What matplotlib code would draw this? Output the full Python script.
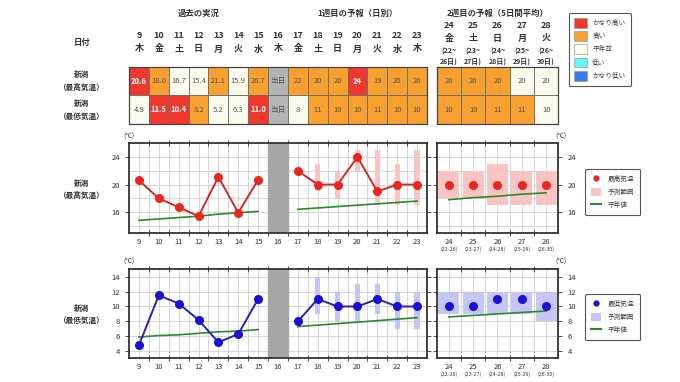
import matplotlib
matplotlib.use('Agg')
import matplotlib.pyplot as plt
from matplotlib import transforms
from matplotlib.patches import Patch
from matplotlib.lines import Line2D

plt.rcParams['font.family'] = ['Noto Sans CJK JP', 'DejaVu Sans']

W, H = 680, 382

# ---- data ----
past_days = [9, 10, 11, 12, 13, 14, 15]
today = 16
w1_days = [17, 18, 19, 20, 21, 22, 23]
w2_days = [24, 25, 26, 27, 28]
all_days = past_days + [today] + w1_days

weekday_left = ['木', '金', '土', '日', '月', '火', '水', '木', '金', '土', '日', '月', '火', '水', '木']
weekday_w2 = ['金', '土', '日', '月', '火']
span_start = [22, 23, 24, 25, 26]
span_end = [26, 27, 28, 29, 30]

past_max = [20.6, 18.0, 16.7, 15.4, 21.1, 15.9, 20.7]
past_min = [4.8, 11.5, 10.4, 8.2, 5.2, 6.3, 11.0]
w1_max = [22, 20, 20, 24, 19, 20, 20]
w1_min = [8, 11, 10, 10, 11, 10, 10]
w2_max = [20, 20, 20, 20, 20]
w2_min = [10, 10, 11, 11, 10]

# forecast ranges (first forecast day has none)
rng_days = [18, 19, 20, 21, 22, 23]
w1_max_lo = [19, 18, 22, 17, 17, 17]
w1_max_hi = [23, 22, 25, 25, 23, 25]
w1_min_lo = [9, 8, 8, 9, 7, 7]
w1_min_hi = [14, 12, 13, 13, 12, 12]
w2_max_lo = [18, 18, 17, 17, 17]
w2_max_hi = [22, 22, 23, 22, 22]
w2_min_lo = [9, 9, 9, 9, 8]
w2_min_hi = [12, 12, 12, 12, 12]

# normals
past_max_norm = [14.8, 15.0, 15.2, 15.4, 15.7, 15.9, 16.1]
w1_max_norm = [16.4, 16.6, 16.8, 17.0, 17.2, 17.4, 17.6]
w2_max_norm = [17.8, 18.1, 18.3, 18.6, 18.8]
past_min_norm = [5.9, 6.1, 6.2, 6.4, 6.6, 6.7, 6.9]
w1_min_norm = [7.3, 7.5, 7.7, 7.9, 8.1, 8.3, 8.5]
w2_min_norm = [8.6, 8.8, 9.0, 9.2, 9.4]

# table classes
max_cls_past = ['vh', 'h', 'n', 'n', 'h', 'n', 'h']
max_cls_w1 = ['h', 'h', 'h', 'vh', 'h', 'h', 'h']
max_cls_w2 = ['h', 'h', 'h', 'n', 'n']
min_cls_past = ['n', 'vh', 'vh', 'h', 'n', 'n', 'vh']
min_cls_w1 = ['n', 'h', 'h', 'h', 'h', 'h', 'h']
min_cls_w2 = ['h', 'h', 'h', 'h', 'n']

cls_names = ['vh', 'h', 'n', 'l', 'vl']
cls_labels = ['かなり高い', '高い', '平年並', '低い', 'かなり低い']
cls_colors = {'vh': '#f0382c', 'h': '#f8a030', 'n': '#fbfbee',
              'l': '#5ff8f8', 'vl': '#3a78ee', 'today': '#b4b4b4'}

red = '#e8281e'
red_line = '#cc2a28'
pink = '#f9c4c4'
blue = '#1a10d8'
blue_line = '#2a22a8'
lblue = '#c6c6f4'
green = '#2a8a2a'
txt = '#333333'


def box(x0, y0, w, h):
    return [x0 / W, 1 - (y0 + h) / H, w / W, h / H]


def fy(py):
    return 1 - py / H


fig = plt.figure(figsize=(W / 100, H / 100), dpi=100)

LX0, LX1 = 129.0, 427.0
RX0, RX1 = 436.7, 558.3

# ---- table ----
tab_l = fig.add_axes(box(LX0, 66.7, LX1 - LX0, 57.3))
tab_r = fig.add_axes(box(RX0, 66.7, RX1 - RX0, 57.3))
for ax in (tab_l, tab_r):
    ax.set_ylim(2, 0)
    ax.axis('off')
tab_l.set_xlim(8.5, 23.5)
tab_r.set_xlim(23.5, 28.5)


def fill_row(ax, days, texts, classes, row):
    cols = [cls_colors[c] for c in classes]
    ax.bar(days, 1, bottom=row, width=1, color=cols, edgecolor='#6a6a6a',
           linewidth=0.6, align='center')
    for d, t, c in zip(days, texts, classes):
        if c == 'vh':
            ax.text(d, row + 0.5, t, ha='center', va='center', fontsize=5.5,
                    color='white', fontweight='bold')
        else:
            ax.text(d, row + 0.5, t, ha='center', va='center', fontsize=5.5,
                    color='#555555')


fill_row(tab_l, all_days,
         [f'{v:.1f}' for v in past_max] + ['当日'] + [str(v) for v in w1_max],
         max_cls_past + ['today'] + max_cls_w1, 0)
fill_row(tab_l, all_days,
         [f'{v:.1f}' for v in past_min] + ['当日'] + [str(v) for v in w1_min],
         min_cls_past + ['today'] + min_cls_w1, 1)
fill_row(tab_r, w2_days, [str(v) for v in w2_max], max_cls_w2, 0)
fill_row(tab_r, w2_days, [str(v) for v in w2_min], min_cls_w2, 1)
for ax in (tab_l, tab_r):
    x0, x1 = ax.get_xlim()
    ax.plot([x0, x1, x1, x0, x0], [0, 0, 2, 2, 0], color='#444444', lw=0.9,
            clip_on=False)

# headers
tl = transforms.blended_transform_factory(tab_l.transData, fig.transFigure)
tr = transforms.blended_transform_factory(tab_r.transData, fig.transFigure)
tab_l.text(12, fy(13), '過去の実況', transform=tl, ha='center', va='center',
           fontsize=6, fontweight='bold', color=txt)
tab_l.text(20, fy(13), '1週目の予報（日別）', transform=tl, ha='center', va='center',
           fontsize=6, fontweight='bold', color=txt)
tab_r.text(26, fy(13), '2週目の予報（5日間平均）', transform=tr, ha='center', va='center',
           fontsize=6, fontweight='bold', color=txt)
for d, wd in zip(all_days, weekday_left):
    tab_l.text(d, fy(36), str(d), transform=tl, ha='center', va='center',
               fontsize=6.5, fontweight='bold', color=txt)
    tab_l.text(d, fy(49), wd, transform=tl, ha='center', va='center',
               fontsize=6.5, fontweight='bold', color=txt)
for d, wd, s, e in zip(w2_days, weekday_w2, span_start, span_end):
    tab_r.text(d, fy(25.5), str(d), transform=tr, ha='center', va='center',
               fontsize=6.5, fontweight='bold', color=txt)
    tab_r.text(d, fy(38.5), wd, transform=tr, ha='center', va='center',
               fontsize=6.5, fontweight='bold', color=txt)
    tab_r.text(d, fy(51.5), f'({s}~', transform=tr, ha='center', va='center',
               fontsize=5, fontweight='bold', color=txt)
    tab_r.text(d, fy(62), f'{e}日)', transform=tr, ha='center', va='center',
               fontsize=5, fontweight='bold', color=txt)

fig.text(82 / W, fy(43), '日付', ha='center', va='center', fontsize=6,
         fontweight='bold', color=txt)
fig.text(82 / W, fy(81), '新潟\n（最高気温）', ha='center', va='center', fontsize=5.5,
         fontweight='bold', color=txt, linespacing=1.5)
fig.text(82 / W, fy(110), '新潟\n（最低気温）', ha='center', va='center', fontsize=5.5,
         fontweight='bold', color=txt, linespacing=1.5)

# category legend
cls_handles = [Patch(facecolor=cls_colors[c], edgecolor='#999999', linewidth=0.5)
               for c in cls_names]
leg = fig.legend(cls_handles, cls_labels, loc='upper left',
                 bbox_to_anchor=(565.7 / W, fy(9.3)), fontsize=4.8,
                 handlelength=1.9, handleheight=1.9, labelspacing=0.5,
                 borderpad=0.8, handletextpad=0.8, fancybox=True,
                 edgecolor='#555555', framealpha=1)
leg.get_frame().set_linewidth(0.8)
for t in leg.get_texts():
    t.set_color('#444444')


# ---- charts ----
def setup(ax, xlim, ylim, major, minor_y, side):
    ax.set_xlim(*xlim)
    ax.set_ylim(*ylim)
    ax.set_yticks(major)
    ax.set_yticks(minor_y, minor=True)
    lo = int(xlim[0] + 0.5)
    hi = int(xlim[1] - 0.5)
    ax.set_xticks(range(lo, hi + 1))
    ax.set_xticks([d + 0.5 for d in range(lo, hi)], minor=True)
    ax.grid(True, which='both', color='#cfcfcf', linewidth=0.6)
    ax.set_axisbelow(True)
    ax.tick_params(axis='x', which='major', length=0, labelsize=5.5,
                   labelcolor=txt, pad=3.8)
    ax.tick_params(axis='x', which='minor', length=5, width=0.6,
                   direction='inout', top=True, bottom=True, color='#333333')
    ax.tick_params(axis='y', which='major', length=3, width=0.6,
                   direction='out', left=True, right=True,
                   labelleft=(side == 'left'), labelright=(side == 'right'),
                   labelsize=5.5, labelcolor=txt, color='#333333')
    ax.tick_params(axis='y', which='minor', length=0)
    for s in ax.spines.values():
        s.set_linewidth(1.3)
        s.set_color('#333333')


def chart(y0, ylim, major, minor_y, past, w1, w2, lo1, hi1, lo2, hi2,
          pn, wn1, wn2, mcol, lcol, rcol, label, rowlabel):
    axl = fig.add_axes(box(LX0, y0, LX1 - LX0, 89.4))
    axr = fig.add_axes(box(RX0, y0, RX1 - RX0, 89.4))
    setup(axl, (8.5, 23.5), ylim, major, minor_y, 'left')
    setup(axr, (23.5, 28.5), ylim, major, minor_y, 'right')

    axl.axvspan(today - 0.5, today + 0.5, color='#a6a6a6', zorder=1.5)
    axl.bar(rng_days, [h - l for l, h in zip(lo1, hi1)], bottom=lo1, width=0.26,
            color=rcol, zorder=2)
    axl.plot(past_days, pn, color=green, lw=1.2, zorder=3)
    axl.plot(w1_days, wn1, color=green, lw=1.2, zorder=3)
    axl.plot(past_days, past, color=lcol, lw=1.4, marker='o', ms=5.5,
             mfc=mcol, mec=mcol, zorder=4)
    axl.plot(w1_days, w1, color=lcol, lw=1.4, marker='o', ms=5.5,
             mfc=mcol, mec=mcol, zorder=4)

    axr.bar(w2_days, [h - l for l, h in zip(lo2, hi2)], bottom=lo2, width=0.86,
            color=rcol, zorder=2)
    axr.plot(w2_days, wn2, color=green, lw=1.2, zorder=3)
    axr.plot(w2_days, w2, ls='none', marker='o', ms=5.5, mfc=mcol, mec=mcol,
             zorder=4)
    tb = transforms.blended_transform_factory(axr.transData, fig.transFigure)
    for d, s, e in zip(w2_days, span_start, span_end):
        axr.text(d, fy(y0 + 89.4 + 16.2), f'({s}-{e})', transform=tb,
                 ha='center', va='center', fontsize=3.8, color=txt)

    fig.text(LX0 / W, fy(y0 - 7), '(℃)', ha='center', va='center',
             fontsize=4.8, color=txt)
    fig.text(561 / W, fy(y0 - 7), '(℃)', ha='center', va='center',
             fontsize=4.8, color=txt)
    fig.text(82 / W, fy(y0 + 46), rowlabel, ha='center', va='center',
             fontsize=5.5, fontweight='bold', color=txt, linespacing=1.5)

    handles = [Line2D([], [], ls='none', marker='o', ms=3.5, color=mcol),
               Patch(facecolor=rcol),
               Line2D([], [], color=green, lw=1.5)]
    lg = fig.legend(handles, [label, '予測範囲', '平年値'], loc='upper left',
                    bbox_to_anchor=(582 / W, fy(y0 + 22.5)), fontsize=4.8,
                    handlelength=1.5, handleheight=1.3, labelspacing=0.75,
                    borderpad=0.9, handletextpad=0.9, fancybox=True,
                    edgecolor='#555555', framealpha=1)
    lg.get_frame().set_linewidth(0.8)
    for t in lg.get_texts():
        t.set_color('#444444')


chart(143.3, (13, 26), [16, 20, 24], [14, 16, 18, 20, 22, 24],
      past_max, w1_max, w2_max, w1_max_lo, w1_max_hi, w2_max_lo, w2_max_hi,
      past_max_norm, w1_max_norm, w2_max_norm, red, red_line, pink,
      '最高気温', '新潟\n（最高気温）')
chart(268.5, (3.1, 15.1), [4, 6, 8, 10, 12, 14], [4, 6, 8, 10, 12, 14],
      past_min, w1_min, w2_min, w1_min_lo, w1_min_hi, w2_min_lo, w2_min_hi,
      past_min_norm, w1_min_norm, w2_min_norm, blue, blue_line, lblue,
      '最低気温', '新潟\n（最低気温）')

fig.savefig('out.png', dpi=100, facecolor='white')
